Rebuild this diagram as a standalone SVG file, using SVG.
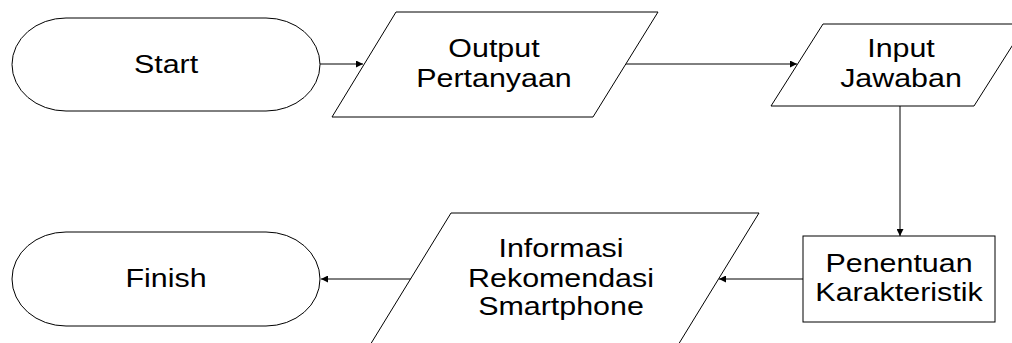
<svg xmlns="http://www.w3.org/2000/svg" width="1012" height="343" viewBox="0 0 1012 343">
<defs>
<style>
.shape{fill:#fff;stroke:#000;stroke-width:1}
.conn{fill:none;stroke:#000;stroke-width:1}
.lbl{font-family:"Liberation Sans",Arial,sans-serif;font-size:26px;fill:#000;text-anchor:middle}
</style>
<marker id="arr" viewBox="0 0 10 10" refX="10" refY="5" markerWidth="9" markerHeight="7" markerUnits="userSpaceOnUse" orient="auto">
<path d="M0,0 L10,5 L0,10 Z" fill="#000"/>
</marker>
</defs>
<rect width="1012" height="343" fill="#fff"/>
<g id="connectors">
<line class="conn" x1="320" y1="64" x2="363" y2="64" marker-end="url(#arr)"/>
<line class="conn" x1="626" y1="64" x2="797" y2="64" marker-end="url(#arr)"/>
<line class="conn" x1="900" y1="106" x2="900" y2="236" marker-end="url(#arr)"/>
<line class="conn" x1="803" y1="279" x2="719" y2="279" marker-end="url(#arr)"/>
<line class="conn" x1="411" y1="279" x2="321" y2="279" marker-end="url(#arr)"/>
</g>
<g id="start">
<rect class="shape" x="12" y="18" width="308" height="93" rx="54" ry="46.5"/>
<text class="lbl" transform="translate(166,0) scale(1.17,1)"><tspan x="0" y="73">Start</tspan></text>
</g>
<g id="output-pertanyaan">
<polygon class="shape" points="396,12 658,12 593,117 332,117"/>
<text class="lbl" transform="translate(494,0) scale(1.17,1)"><tspan x="0" y="57">Output</tspan><tspan x="0" y="87">Pertanyaan</tspan></text>
</g>
<g id="input-jawaban">
<polygon class="shape" points="823,24 1026,24 974,106 771,106"/>
<text class="lbl" transform="translate(901,0) scale(1.17,1)"><tspan x="0" y="57">Input</tspan><tspan x="0" y="87">Jawaban</tspan></text>
</g>
<g id="penentuan">
<rect class="shape" x="803" y="236" width="192" height="86"/>
<text class="lbl" transform="translate(899,0) scale(1.17,1)"><tspan x="0" y="272">Penentuan</tspan><tspan x="0" y="301">Karakteristik</tspan></text>
</g>
<g id="informasi">
<polygon class="shape" points="451,213 759,213 675,350 367,350"/>
<text class="lbl" transform="translate(561,0) scale(1.17,1)"><tspan x="0" y="257">Informasi</tspan><tspan x="0" y="287">Rekomendasi</tspan><tspan x="0" y="315">Smartphone</tspan></text>
</g>
<g id="finish">
<rect class="shape" x="12" y="232" width="308" height="94" rx="54" ry="47"/>
<text class="lbl" transform="translate(166,0) scale(1.17,1)"><tspan x="0" y="287">Finish</tspan></text>
</g>
</svg>
